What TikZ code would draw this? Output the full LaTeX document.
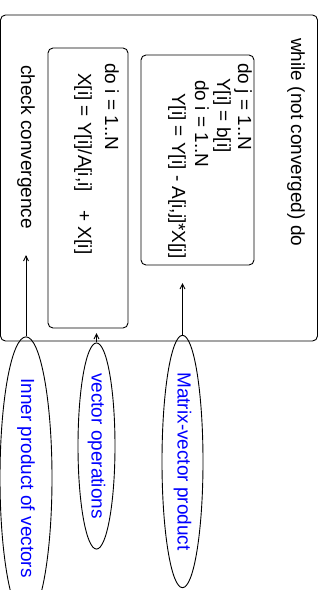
\documentclass[tikz,border=0pt]{standalone}
\usepackage{fontspec}
\setmainfont{Liberation Sans}
\usetikzlibrary{shapes.geometric,arrows.meta}
\begin{document}
\begin{tikzpicture}[x=1pt,y=-1pt,
  font=\fontsize{19pt}{21pt}\selectfont,
  boxstyle/.style={draw, line width=0.9pt, rounded corners=5pt, inner sep=0pt},
  codetext/.style={rotate=-90, anchor=west, inner sep=0pt},
  labell/.style={draw, line width=0.9pt, ellipse, rotate=-90, inner sep=0pt, text=blue},
  arr/.style={line width=0.9pt, -{Straight Barb[length=5pt,width=5pt]}}]
\useasboundingbox (0,0) rectangle (326,590);
% boxes
\node[boxstyle, minimum width=317pt, minimum height=326pt] (outer) at (159,178) {};
\node[boxstyle, minimum width=80pt, minimum height=280pt] (vbox) at (88,188) {};
\node[boxstyle, minimum width=113pt, minimum height=210pt] (mbox) at (197.5,160) {};
% texts
\node[codetext] (wh) at (296,38) {while (not converged) do};
\node[codetext] (cc) at (26,65) {check convergence};
\node[codetext] (m1) at (243,63) {do j = 1..N};
\node[codetext] (m2) at (222,78) {Y[i] = b[i]};
\node[codetext] (m3) at (202,80) {do i = 1..N};
\node[codetext] (m4) at (177,93) {Y[i] = Y[i] - A[i,j]*X[j]};
\node[codetext] (v1) at (112,63) {do i = 1..N};
\node[codetext] (v2) at (83,73) {X[i] = Y[i]/A[i,i]\hspace*{18.5pt}+ X[i]};
% labels
\node[labell, minimum width=232pt, minimum height=52pt] (inner) at (26,478) {Inner product of vectors};
\node[labell, minimum width=182pt, minimum height=37pt] (vecop) at (96.5,446) {vector operations};
\node[labell, minimum width=211pt, minimum height=41pt] (matvec) at (182.5,461.5) {Matrix-vector product};
% arrow targets
\coordinate (t1) at (26,255);
\coordinate (t2) at (96.5,333);
\coordinate (t3) at (182.5,283);
\draw[arr] (inner.west) -- (t1);
\draw[arr] (vecop.west) -- (t2);
\draw[arr] (matvec.west) -- (t3);
\end{tikzpicture}
\end{document}
